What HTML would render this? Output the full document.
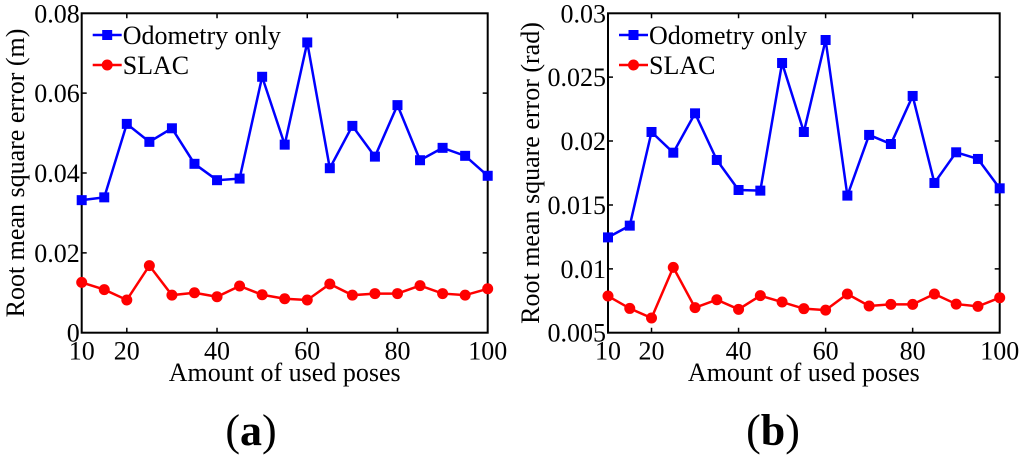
<!DOCTYPE html>
<html><head><meta charset="utf-8"><style>
html,body{margin:0;padding:0;background:#fff;}
svg text{font-family:"Liberation Serif",serif;fill:#000;}
</style></head><body>
<svg id="s" width="1024" height="458" viewBox="0 0 1024 458"></svg>
<script>
const poses=[10,15,20,25,30,35,40,45,50,55,60,65,70,75,80,85,90,95,100];
const odoA=[0.0332,0.0339,0.0523,0.0478,0.0512,0.0423,0.0382,0.0386,0.0641,0.0471,0.0727,0.0412,0.0518,0.0441,0.0570,0.0432,0.0463,0.0443,0.0393];
const slacA=[0.0126,0.0108,0.0082,0.0168,0.0094,0.0100,0.0090,0.0117,0.0095,0.0085,0.0082,0.0122,0.0094,0.0098,0.0098,0.0118,0.0098,0.0094,0.0110];
const odoB=[0.01246,0.01338,0.02071,0.01909,0.02217,0.01852,0.01617,0.01612,0.02611,0.02071,0.02791,0.01573,0.02048,0.01977,0.02353,0.01672,0.01912,0.0186,0.0163];
const slacB=[0.00787,0.0069,0.00615,0.01011,0.00696,0.00758,0.00683,0.0079,0.0074,0.00688,0.00677,0.00803,0.00709,0.00722,0.00722,0.00803,0.00724,0.00706,0.00774];
const xTicks=[10,20,40,60,80,100];
const yTicksA=[0,0.02,0.04,0.06,0.08];
const yTickLabelsA=["0","0.02","0.04","0.06","0.08"];
const yTicksB=[0.005,0.01,0.015,0.02,0.025,0.03];
const yTickLabelsB=["0.005","0.01","0.015","0.02","0.025","0.03"];
const NS="http://www.w3.org/2000/svg";
const svg=document.getElementById('s');
function el(tag,attrs,parent){const e=document.createElementNS(NS,tag);for(const k in attrs)e.setAttribute(k,attrs[k]);(parent||svg).appendChild(e);return e;}
function chart(cfg){
  const g=el('g',{});
  
  
  const L=cfg.L,R=cfg.R,T=13.3,B=332.7;
  const sx=v=>L+(v-10)/(100-10)*(R-L);
  const sy=v=>B-(v-cfg.y0)/(cfg.y1-cfg.y0)*(B-T);
  xTicks.forEach(t=>{
    const x=sx(t);
    const tk=el('path',{d:`M${x},${B}V${B-5}M${x},${T}V${T+5}`,stroke:'#000','stroke-width':1.5},g);
    
    
    const lb=el('text',{x:x,y:B+27,'text-anchor':'middle','font-size':26},g);
    
    
    lb.textContent=t;
  });
  cfg.yt.forEach((t,i)=>{
    const y=sy(t);
    const tk=el('path',{d:`M${L},${y}H${L+5}M${R},${y}H${R-5}`,stroke:'#000','stroke-width':1.5},g);
    
    
    const lb=el('text',{x:L-2,y:y+9,'text-anchor':'end','font-size':26},g);
    
    
    lb.textContent=cfg.ytl[i];
  });
  const box=el('rect',{x:L,y:T,width:R-L,height:B-T,fill:'none',stroke:'#000','stroke-width':2},g);
  
  
  function series(vals,color,mk,name){
    const sg=el('g',{},g);
    
    
    const pts=vals.map((v,i)=>sx(poses[i])+','+sy(v)).join(' ');
    el('polyline',{points:pts,fill:'none',stroke:color,'stroke-width':2.5},sg);
    vals.forEach((v,i)=>{
      const x=sx(poses[i]),y=sy(v);
      let m;
      if(mk==='sq')m=el('rect',{x:x-5,y:y-5,width:10,height:10,fill:color},sg);
      else m=el('circle',{cx:x,cy:y,r:5.5,fill:color},sg);
      
      
    });
  }
  series(cfg.odo,'#0000ff','sq','odometry-series');
  series(cfg.slac,'#ff0000','ci','slac-series');
  const lx=L+11;
  const lg=el('g',{},g);
  
  
  el('line',{x1:lx,y1:35,x2:lx+29,y2:35,stroke:'#0000ff','stroke-width':2.5},lg);
  el('rect',{x:lx+9.5,y:30,width:10,height:10,fill:'#0000ff'},lg);
  const t1=el('text',{x:lx+30,y:44,'font-size':26},lg);t1.textContent='Odometry only';
  
  
  el('line',{x1:lx,y1:65,x2:lx+29,y2:65,stroke:'#ff0000','stroke-width':2.5},lg);
  el('circle',{cx:lx+14.5,cy:65,r:5.5,fill:'#ff0000'},lg);
  const t2=el('text',{x:lx+30,y:74,'font-size':26},lg);t2.textContent='SLAC';
  
  
  const xt=el('text',{x:(L+R)/2,y:381,'text-anchor':'middle','font-size':26},g);
  
  
  xt.textContent='Amount of used poses';
  const yt=el('text',{x:0,y:0,'text-anchor':'middle','font-size':26,transform:`translate(${cfg.ytx},${(T+B)/2}) rotate(-90)`},g);
  
  
  yt.textContent=cfg.ytitle;
  const pl=el('text',{x:cfg.plx,y:445,'text-anchor':'middle','font-size':44},g);
  
  
  pl.innerHTML='<tspan>(</tspan><tspan font-weight="bold">'+cfg.pl+'</tspan><tspan>)</tspan>';
}
chart({name:'chart-a',L:81.7,R:487.7,y0:0,y1:0.08,yt:yTicksA,ytl:yTickLabelsA,odo:odoA,slac:slacA,ytitle:'Root mean square error (m)',ytx:24,plx:251,pl:'a'});
chart({name:'chart-b',L:608,R:999.7,y0:0.005,y1:0.03,yt:yTicksB,ytl:yTickLabelsB,odo:odoB,slac:slacB,ytitle:'Root mean square error (rad)',ytx:539,plx:773,pl:'b'});
</script>
</body></html>
